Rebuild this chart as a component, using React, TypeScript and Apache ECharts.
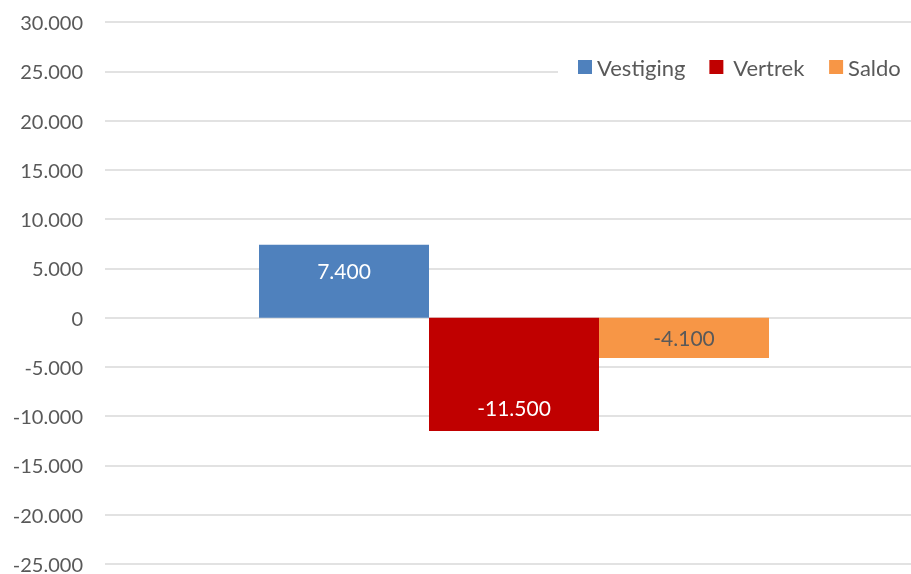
import React, { useEffect, useRef } from "react";
import * as echarts from "echarts";

const categories = [""];
const seriesNames = ["Vestiging", "Vertrek", "Saldo"];
const vestiging = [7400];
const vertrek = [-11500];
const saldo = [-4100];
const colors = ["#4F81BD", "#C00000", "#F79646"];

const fmt = (v: number) => {
  const s = Math.abs(v).toString().replace(/\B(?=(\d{3})+(?!\d))/g, ".");
  return (v < 0 ? "-" : "") + s;
};

export default function App() {
  const ref = useRef<HTMLDivElement>(null);
  useEffect(() => {
    document.body.style.margin = "0";
    const chart = echarts.init(ref.current!, undefined, { renderer: "svg" });
    const font = "Lato, 'Open Sans', sans-serif";
    chart.setOption({
      animation: false,
      textStyle: { fontFamily: font },
      grid: { left: 105, right: 0, top: 22, bottom: 9, containLabel: false },
      legend: {
        data: seriesNames,
        left: 558,
        top: 50,
        backgroundColor: "#ffffff",
        padding: [6, 12, 6, 20],
        itemWidth: 14,
        itemHeight: 14,
        itemGap: 24,
        icon: "rect",
        formatter: (name: string) => (name === "Vertrek" ? " " + name : name),
        textStyle: { fontSize: 22, color: "#595959", fontFamily: font, padding: [0, 0, 0, 0] },
        z: 10,
      },
      xAxis: {
        type: "category",
        data: categories,
        axisLine: { show: false },
        axisTick: { show: false },
        axisLabel: { show: false },
      },
      yAxis: {
        type: "value",
        min: -25000,
        max: 30000,
        interval: 5000,
        axisLine: { show: false },
        axisTick: { show: false },
        axisLabel: {
          fontSize: 20,
          color: "#595959",
          margin: 22,
          fontFamily: font,
          formatter: (v: number) => fmt(v),
        },
        splitLine: { lineStyle: { color: "#D9D9D9", width: 1.5 } },
      },
      series: [
        {
          name: seriesNames[0],
          type: "bar",
          data: vestiging,
          barWidth: 170,
          barGap: "0%",
          itemStyle: { color: colors[0] },
          label: {
            show: true,
            position: "insideTop",
            distance: 15,
            fontSize: 21,
            color: "#ffffff",
            fontFamily: font,
            formatter: (p: any) => fmt(p.value),
          },
        },
        {
          name: seriesNames[1],
          type: "bar",
          data: vertrek,
          barWidth: 170,
          barGap: "0%",
          itemStyle: { color: colors[1] },
          label: {
            show: true,
            position: "insideBottom",
            distance: 13,
            fontSize: 21,
            color: "#ffffff",
            fontFamily: font,
            formatter: (p: any) => fmt(p.value),
          },
        },
        {
          name: seriesNames[2],
          type: "bar",
          data: saldo,
          barWidth: 170,
          barGap: "0%",
          itemStyle: { color: colors[2] },
          label: {
            show: true,
            position: "inside",
            fontSize: 21,
            color: "#595959",
            fontFamily: font,
            formatter: (p: any) => fmt(p.value),
          },
        },
      ],
    });
    return () => chart.dispose();
  }, []);
  return (
    <div style={{ position: "fixed", left: 0, top: 0, width: 911, height: 574, overflow: "hidden" }}>
      <div ref={ref} style={{ position: "absolute", left: 0, top: 0, width: 923, height: 574 }} />
    </div>
  );
}
